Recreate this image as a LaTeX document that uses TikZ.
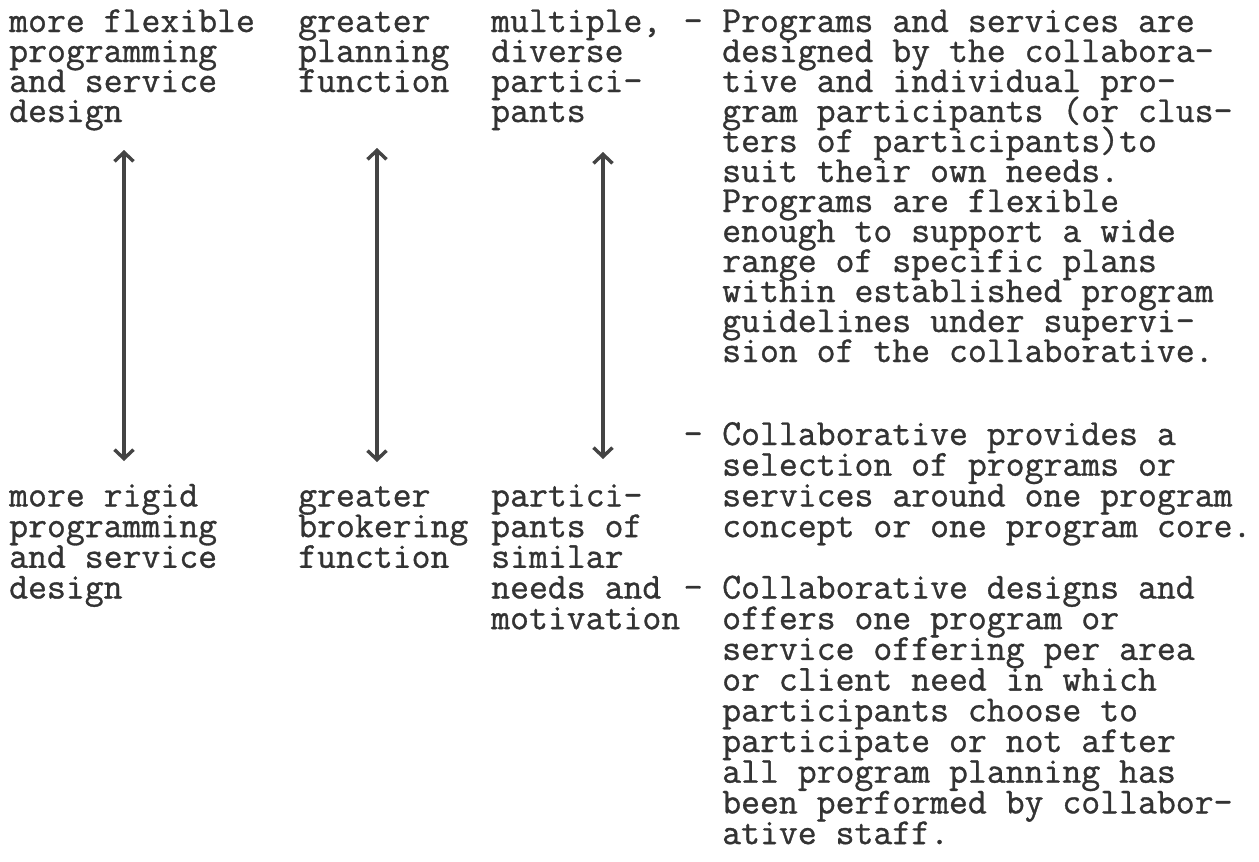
\documentclass[tikz,border=0pt]{standalone}
\usepackage{fontspec}
\newfontfamily\twfamily[FakeBold=0.9]{Latin Modern Mono}
\usetikzlibrary{arrows.meta}
\definecolor{ink}{HTML}{333333}
\definecolor{arr}{HTML}{444444}
\newcommand{\twfont}{\fontsize{36.7}{30}\selectfont\twfamily\bfseries}
\tikzset{
  txt/.style={font=\twfont, text=ink, inner sep=0pt, anchor=base west},
  dbl/.style={draw=arr, line width=3.6pt,
    {Straight Barb[length=9pt,width=19pt,line width=3.4pt]}-{Straight Barb[length=9pt,width=19pt,line width=3.4pt]}}
}
\newcommand{\tline}[4]{\node[txt] (#1) at (#2,#3) {#4};}
\begin{document}
\begin{tikzpicture}[x=1pt,y=-1pt]
\useasboundingbox[fill=white] (0,0) rectangle (1259,862);
% column x positions (monospace grid, 19.27pt per character)
\def\xA{9}\def\xB{298}\def\xC{491}\def\xD{683.5}\def\xR{722}
% upper rows: baseline 32 + 30 r
\tline{a0}{\xA}{32}{more flexible}
\tline{a1}{\xA}{62}{programming}
\tline{a2}{\xA}{92}{and service}
\tline{a3}{\xA}{122}{design}
\tline{b0}{\xB}{32}{greater}
\tline{b1}{\xB}{62}{planning}
\tline{b2}{\xB}{92}{function}
\tline{c0}{\xC}{32}{multiple,}
\tline{c1}{\xC}{62}{diverse}
\tline{c2}{\xC}{92}{partici-}
\tline{c3}{\xC}{122}{pants}
\tline{d0}{\xD}{32}{-}
\tline{r0}{\xR}{32}{Programs and services are}
\tline{r1}{\xR}{62}{designed by the collabora-}
\tline{r2}{\xR}{92}{tive and individual pro-}
\tline{r3}{\xR}{122}{gram participants (or clus-}
\tline{r4}{\xR}{152}{ters of participants)to}
\tline{r5}{\xR}{182}{suit their own needs.}
\tline{r6}{\xR}{212}{Programs are flexible}
\tline{r7}{\xR}{242}{enough to support a wide}
\tline{r8}{\xR}{272}{range of specific plans}
\tline{r9}{\xR}{302}{within established program}
\tline{r10}{\xR}{332}{guidelines under supervi-}
\tline{r11}{\xR}{362}{sion of the collaborative.}
% lower rows: baseline 445 + 30.7 k
\tline{d1}{\xD}{445}{-}
\tline{s0}{\xR}{445}{Collaborative provides a}
\tline{s1}{\xR}{475.7}{selection of programs or}
\tline{s2}{\xR}{506.4}{services around one program}
\tline{s3}{\xR}{537.1}{concept or one program core.}
\tline{e0}{\xA}{506.4}{more rigid}
\tline{e1}{\xA}{537.1}{programming}
\tline{e2}{\xA}{567.8}{and service}
\tline{e3}{\xA}{598.5}{design}
\tline{f0}{\xB}{506.4}{greater}
\tline{f1}{\xB}{537.1}{brokering}
\tline{f2}{\xB}{567.8}{function}
\tline{g0}{\xC}{506.4}{partici-}
\tline{g1}{\xC}{537.1}{pants of}
\tline{g2}{\xC}{567.8}{similar}
\tline{g3}{\xC}{598.5}{needs and}
\tline{g4}{\xC}{629.2}{motivation}
\tline{d2}{\xD}{598.5}{-}
\tline{u0}{\xR}{598.5}{Collaborative designs and}
\tline{u1}{\xR}{629.2}{offers one program or}
\tline{u2}{\xR}{659.9}{service offering per area}
\tline{u3}{\xR}{690.6}{or client need in which}
\tline{u4}{\xR}{721.3}{participants choose to}
\tline{u5}{\xR}{752.0}{participate or not after}
\tline{u6}{\xR}{782.7}{all program planning has}
\tline{u7}{\xR}{813.4}{been performed by collabor-}
\tline{u8}{\xR}{844.1}{ative staff.}
% double arrows
\coordinate (t1) at (124,150); \coordinate (m1) at (124,461);
\coordinate (t2) at (377,148); \coordinate (m2) at (377,462);
\coordinate (t3) at (603,152); \coordinate (m3) at (603,459);
\draw[dbl] (t1) -- (m1);
\draw[dbl] (t2) -- (m2);
\draw[dbl] (t3) -- (m3);
\end{tikzpicture}
\end{document}
